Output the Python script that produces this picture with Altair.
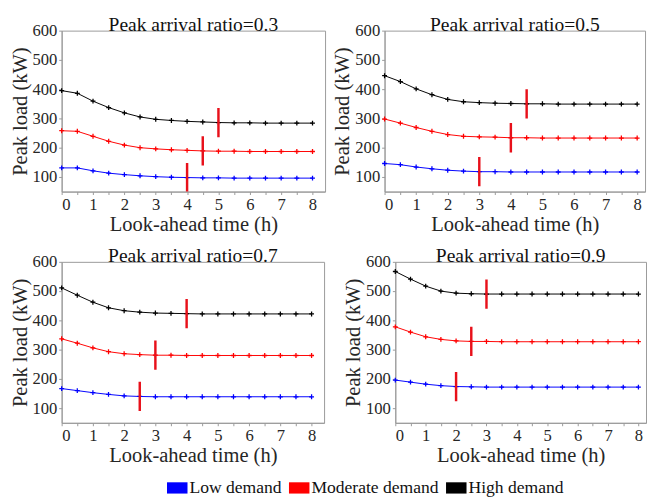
import altair as alt
import pandas as pd

hours = [0, 0.5, 1, 1.5, 2, 2.5, 3, 3.5, 4, 4.5, 5, 5.5, 6, 6.5, 7, 7.5, 8]
demand_levels = ["Low demand", "Moderate demand", "High demand"]
line_colors = ["#0000ff", "#ff0000", "#000000"]
y_ticks = [100, 200, 300, 400, 500, 600]

# Peak arrival ratio = 0.3
low_03 = [131, 131, 121, 113, 108, 104, 101, 99, 98, 97, 97, 96, 96, 96, 96, 96, 96]
mod_03 = [258, 256, 239, 222, 209, 200, 196, 193, 191, 189, 188, 188, 187, 187, 187, 187, 187]
high_03 = [395, 386, 359, 337, 319, 305, 297, 293, 290, 288, 286, 285, 285, 284, 284, 284, 284]
mark_03 = [4, 4.5, 5]

# Peak arrival ratio = 0.5
low_05 = [146, 142, 134, 128, 123, 120, 118, 118, 117, 117, 117, 117, 117, 117, 117, 117, 117]
mod_05 = [298, 284, 269, 256, 245, 239, 237, 236, 234, 234, 233, 233, 233, 233, 233, 233, 233]
high_05 = [446, 426, 401, 381, 365, 357, 354, 352, 351, 350, 350, 349, 349, 349, 349, 349, 349]
mark_05 = [3, 4, 4.5]

# Peak arrival ratio = 0.7
low_07 = [167, 160, 153, 147, 142, 140, 139, 139, 139, 139, 139, 139, 139, 139, 139, 139, 139]
mod_07 = [337, 322, 306, 293, 286, 283, 281, 281, 280, 280, 280, 280, 280, 280, 280, 280, 280]
high_07 = [511, 486, 462, 443, 433, 428, 425, 424, 423, 422, 422, 422, 422, 422, 422, 422, 422]
mark_07 = [2.5, 3, 4]

# Peak arrival ratio = 0.9
low_09 = [196, 189, 182, 177, 174, 173, 172, 172, 172, 172, 172, 172, 172, 172, 172, 172, 172]
mod_09 = [378, 360, 344, 335, 330, 328, 328, 327, 327, 327, 327, 327, 327, 327, 327, 327, 327]
high_09 = [567, 541, 517, 500, 493, 491, 490, 490, 490, 490, 490, 490, 490, 490, 490, 490, 490]
mark_09 = [2, 2.5, 3]

FONT = "Times New Roman, Liberation Serif, serif"

legend = alt.Legend(
    title=None,
    orient="none",
    legendX=108,
    legendY=458,
    direction="horizontal",
    symbolType="M-1,-0.55H1V0.55H-1Z",
    symbolSize=441,
    symbolStrokeWidth=0,
    symbolOpacity=1,
    labelFontSize=18,
    labelFont=FONT,
    labelColor="#111111",
    labelOffset=2,
    columnPadding=7,
)


def make_panel(ratio, low, mod, high, marks, w, h, xmax):
    rows = []
    for name, vals in zip(demand_levels, [low, mod, high]):
        for t, v in zip(hours, vals):
            rows.append({"t": t, "load": v, "demand": name})
    df = pd.DataFrame(rows)
    mrows = []
    for name, vals, m in zip(demand_levels, [low, mod, high], marks):
        mrows.append({"t": m, "load": vals[hours.index(m)], "demand": name})
    mdf = pd.DataFrame(mrows)

    x = alt.X("t:Q", scale=alt.Scale(domain=[0, xmax], nice=False, zero=False),
              axis=alt.Axis(title="Look-ahead time (h)", values=hours, labelOverlap=False,
                            labelExpr="datum.value % 1 == 0 ? format(datum.value, 'd') : ''"))
    y = alt.Y("load:Q", scale=alt.Scale(domain=[50, 600], nice=False, zero=False),
              axis=alt.Axis(title="Peak load (kW)", values=y_ticks))
    color = alt.Color("demand:N", scale=alt.Scale(domain=demand_levels, range=line_colors),
                      legend=None)
    fill = alt.Fill("demand:N", scale=alt.Scale(domain=demand_levels, range=line_colors),
                    legend=legend)
    base = alt.Chart(df)
    key = alt.Chart(mdf).mark_square(filled=True, size=0).encode(x=x, y=y, fill=fill)
    line = base.mark_line(strokeWidth=1, clip=True).encode(x=x, y=y, color=color)
    pts = base.mark_point(shape="M-1,0H1M0,-1V1", size=25, strokeWidth=1.3,
                          filled=False, opacity=1).encode(x=x, y=y, color=color)
    ticks = alt.Chart(mdf).mark_tick(orient="vertical", size=30, thickness=2.5,
                                     color="#e8101a", opacity=1, clip=True).encode(x=x, y=y)
    return alt.layer(key, line, pts, ticks).properties(
        width=w, height=h,
        title=alt.Title(f"Peak arrival ratio={ratio}", frame="group"))


p1 = make_panel("0.3", low_03, mod_03, high_03, mark_03, 270, 165, 8.4)
p2 = make_panel("0.5", low_05, mod_05, high_05, mark_05, 267, 165, 8.25)
p3 = make_panel("0.7", low_07, mod_07, high_07, mark_07, 269, 165, 8.4)
p4 = make_panel("0.9", low_09, mod_09, high_09, mark_09, 257, 165, 8.25)

row1 = alt.hconcat(p1, p2, spacing=5)
row2 = alt.hconcat(p3, p4, spacing=17)

chart = alt.vconcat(row1, row2, spacing=10).properties(padding=0).configure(
    font=FONT
).configure_axis(
    labelFont=FONT, titleFont=FONT, labelFontSize=17, titleFontSize=21,
    labelColor="#262626", titleColor="#262626", titleFontWeight="normal",
    grid=False, domainColor="#999999", tickColor="#999999", tickSize=3,
    labelPadding=2, titlePadding=2
).configure_view(stroke="#999999", strokeWidth=1).configure_title(
    font=FONT, fontSize=20, fontWeight="normal", color="#111111", offset=-13
)

chart.save("out.html", embed_options={"renderer": "svg", "actions": False})
